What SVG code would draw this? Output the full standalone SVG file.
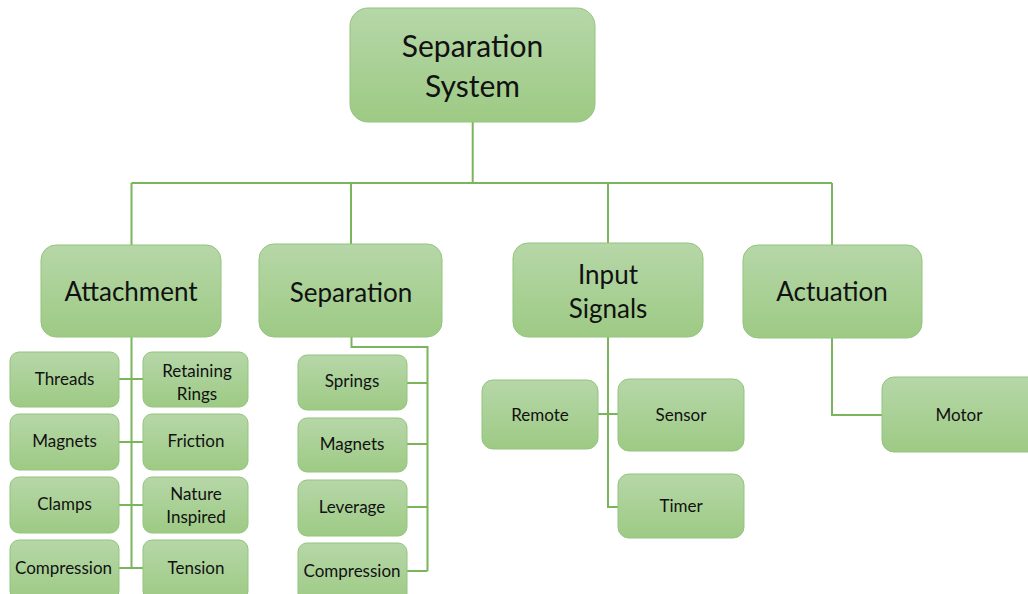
<svg xmlns="http://www.w3.org/2000/svg" width="1028" height="594" viewBox="0 0 1028 594">
<defs>
<linearGradient id="g" x1="0" y1="0" x2="0" y2="1">
<stop offset="0" stop-color="#b6d7a8"/>
<stop offset="1" stop-color="#9dca84"/>
</linearGradient>
<style>
.box{fill:url(#g);stroke:#93c47d;stroke-width:1}
.ln{fill:none;stroke:#7ab55c;stroke-width:2}
text{font-family:Lato,"Liberation Sans",sans-serif;fill:#111111;text-anchor:middle}
.t1{font-size:30px}
.t2{font-size:26px}
.t3{font-size:17px}
</style>
</defs>
<rect width="1028" height="594" fill="#ffffff"/>
<g id="connectors">
<path class="ln" d="M472.7 122V183M131.5 183H832M131.5 183V245M351 183V244M608 183V243M832 183V245"/>
<path class="ln" d="M131.5 337V568M119 379H143M119 442H143M119 505H143M119 568H143"/>
<path class="ln" d="M351.5 337V347H427.5V571M407 383H427.5M407 444H427.5M407 507H427.5M407 571H427.5"/>
<path class="ln" d="M608 337V507H618M598 414H618"/>
<path class="ln" d="M832 338V415H882"/>
</g>
<g id="n-root"><rect class="box" x="350" y="8" width="245" height="114" rx="18"/><text class="t1" x="472.5" y="57">Separation</text><text class="t1" x="472.5" y="97">System</text></g>
<g id="n-attachment"><rect class="box" x="41" y="245" width="180" height="92" rx="15"/><text class="t2" x="131" y="301">Attachment</text></g>
<g id="n-separation"><rect class="box" x="259" y="244" width="183" height="93" rx="15"/><text class="t2" x="351" y="302">Separation</text></g>
<g id="n-input"><rect class="box" x="513" y="243" width="190" height="94" rx="15"/><text class="t2" x="608" y="284">Input</text><text class="t2" x="608" y="318">Signals</text></g>
<g id="n-actuation"><rect class="box" x="743" y="245" width="179" height="93" rx="15"/><text class="t2" x="832" y="301">Actuation</text></g>
<g id="n-threads"><rect class="box" x="10" y="352" width="109" height="55" rx="9"/><text class="t3" x="64.5" y="385">Threads</text></g>
<g id="n-magnets1"><rect class="box" x="10" y="414" width="109" height="56" rx="9"/><text class="t3" x="64.5" y="447">Magnets</text></g>
<g id="n-clamps"><rect class="box" x="10" y="477" width="109" height="56" rx="9"/><text class="t3" x="64.5" y="510">Clamps</text></g>
<g id="n-compression1"><rect class="box" x="10" y="540" width="109" height="60" rx="9"/><text class="t3" x="63.5" y="574">Compression</text></g>
<g id="n-retaining"><rect class="box" x="143" y="352" width="105" height="55" rx="9"/><text class="t3" x="197" y="377">Retaining</text><text class="t3" x="197" y="400">Rings</text></g>
<g id="n-friction"><rect class="box" x="143" y="414" width="105" height="56" rx="9"/><text class="t3" x="196" y="447">Friction</text></g>
<g id="n-nature"><rect class="box" x="143" y="477" width="105" height="56" rx="9"/><text class="t3" x="196" y="500">Nature</text><text class="t3" x="196" y="523">Inspired</text></g>
<g id="n-tension"><rect class="box" x="143" y="540" width="105" height="60" rx="9"/><text class="t3" x="196" y="574">Tension</text></g>
<g id="n-springs"><rect class="box" x="298" y="355" width="109" height="55" rx="9"/><text class="t3" x="352" y="387">Springs</text></g>
<g id="n-magnets2"><rect class="box" x="298" y="418" width="109" height="54" rx="9"/><text class="t3" x="352" y="450">Magnets</text></g>
<g id="n-leverage"><rect class="box" x="298" y="480" width="109" height="56" rx="9"/><text class="t3" x="352" y="513">Leverage</text></g>
<g id="n-compression2"><rect class="box" x="298" y="543" width="109" height="60" rx="9"/><text class="t3" x="352" y="577">Compression</text></g>
<g id="n-remote"><rect class="box" x="482" y="380" width="116" height="69" rx="11"/><text class="t3" x="540" y="421">Remote</text></g>
<g id="n-sensor"><rect class="box" x="618" y="379" width="126" height="72" rx="11"/><text class="t3" x="681" y="421">Sensor</text></g>
<g id="n-timer"><rect class="box" x="618" y="474" width="126" height="64" rx="11"/><text class="t3" x="681" y="512">Timer</text></g>
<g id="n-motor"><rect class="box" x="882" y="377" width="160" height="75" rx="12"/><text class="t3" x="959" y="421">Motor</text></g>
</svg>
